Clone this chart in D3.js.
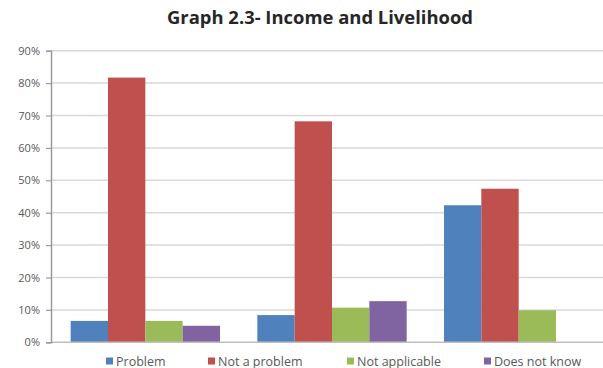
<!DOCTYPE html>
<html>
<head>
<meta charset="utf-8">
<script src="https://cdn.jsdelivr.net/npm/d3@7"></script>
<style>
  html, body { margin: 0; padding: 0; background: #fff; }
  svg { display: block; }
</style>
</head>
<body>
<svg id="chart" width="603" height="368"></svg>
<script>
// Survey responses on income and livelihood, in percent
const groups = ["Group 1", "Group 2", "Group 3"];
const seriesNames = ["Problem", "Not a problem", "Not applicable", "Does not know"];
const problem = [6.6, 8.4, 42.3];
const notAProblem = [81.7, 68.2, 47.4];
const notApplicable = [6.6, 10.7, 9.9];
const doesNotKnow = [5.1, 12.7, 0];
const yTicks = [0, 10, 20, 30, 40, 50, 60, 70, 80, 90];
const title = "Graph 2.3- Income and Livelihood";

const seriesValues = [problem, notAProblem, notApplicable, doesNotKnow];
const colors = ["#4f81bd", "#c0504d", "#9bbb59", "#8064a2"];

const svg = d3.select("#chart");
const W = 603;
const plot = { left: 51, right: 603, top: 50.7, bottom: 342.3 };

const y = d3.scaleLinear().domain([0, 90]).range([plot.bottom, plot.top]);
const x0 = d3.scaleBand().domain(groups).range([52, 612]).paddingInner(0.2).paddingOuter(0.1);
const x1 = d3.scaleBand().domain(seriesNames).range([0, x0.bandwidth()]).padding(0);

// Title
svg.append("text")
  .attr("x", 320).attr("y", 24)
  .attr("text-anchor", "middle")
  .attr("font-family", "'Open Sans', sans-serif")
  .attr("font-weight", "bold")
  .attr("font-size", 17.5)
  .attr("fill", "#262626")
  .attr("textLength", 306)
  .attr("lengthAdjust", "spacingAndGlyphs")
  .text(title);

// Horizontal gridlines
svg.append("g")
  .selectAll("line")
  .data(yTicks.filter(d => d > 0))
  .join("line")
  .attr("x1", plot.left).attr("x2", W)
  .attr("y1", d => y(d)).attr("y2", d => y(d))
  .attr("stroke", "#d9d9d9")
  .attr("stroke-width", 1.5);

// Bars
const table = groups.map((g, i) => ({
  group: g,
  values: seriesNames.map((s, j) => ({ series: s, value: seriesValues[j][i], color: colors[j] }))
}));

svg.append("g")
  .selectAll("g")
  .data(table)
  .join("g")
  .attr("transform", d => `translate(${x0(d.group)},0)`)
  .selectAll("rect")
  .data(d => d.values.filter(v => v.value > 0))
  .join("rect")
  .attr("x", d => x1(d.series))
  .attr("width", x1.bandwidth())
  .attr("y", d => y(d.value))
  .attr("height", d => y(0) - y(d.value))
  .attr("fill", d => d.color);

// Baseline
svg.append("line")
  .attr("x1", plot.left).attr("x2", W)
  .attr("y1", y(0)).attr("y2", y(0))
  .attr("stroke", "#bfbfbf")
  .attr("stroke-width", 1.5);

// Y axis
const yAxis = d3.axisLeft(y)
  .tickValues(yTicks)
  .tickFormat(d => d + "%")
  .tickSize(5)
  .tickPadding(6);

const yg = svg.append("g")
  .attr("transform", `translate(${plot.left},0)`)
  .call(yAxis);
yg.select(".domain").attr("stroke", "#9a9a9a").attr("stroke-width", 1.5);
yg.selectAll(".tick line").attr("stroke", "#9a9a9a").attr("stroke-width", 1.2);
yg.selectAll(".tick text")
  .attr("font-family", "'Open Sans', sans-serif")
  .attr("font-size", 11)
  .attr("fill", "#595959");

// Legend
const legendX = [106, 208, 347, 484];
const legend = svg.append("g")
  .selectAll("g")
  .data(seriesNames)
  .join("g")
  .attr("transform", (d, i) => `translate(${legendX[i]},361)`);
legend.append("rect")
  .attr("x", 0).attr("y", -3.5)
  .attr("width", 7).attr("height", 7)
  .attr("fill", (d, i) => colors[i]);
legend.append("text")
  .attr("x", 10).attr("y", 4.5)
  .attr("font-family", "'Open Sans', sans-serif")
  .attr("font-size", 12.5)
  .attr("fill", "#595959")
  .text(d => d);
</script>
</body>
</html>
